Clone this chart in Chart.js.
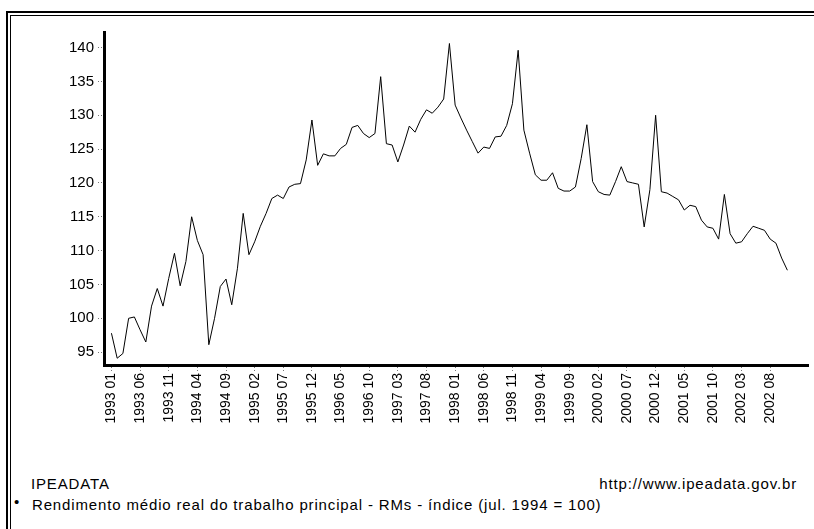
<!DOCTYPE html>
<html>
<head>
<meta charset="utf-8">
<script src="https://cdn.jsdelivr.net/npm/chart.js@4.4.0/dist/chart.umd.min.js"></script>
<style>
    body {
        margin: 0;
        width: 814px;
        height: 529px;
        overflow: hidden;
        position: relative;
        background: #fff;
        font-family: "Liberation Sans", Arial, sans-serif;
        color: #000;
    }
    .frame-outer {
        position: absolute;
        left: 6px; top: 11px; width: 900px; height: 600px;
        border-left: 2px solid #000;
        border-top: 2px solid #000;
    }
    .frame-inner {
        position: absolute;
        left: 10px; top: 15px; width: 900px; height: 600px;
        border-left: 1px solid #000;
        border-top: 1px solid #000;
    }
    .chart-box {
        position: absolute;
        left: 0; top: 0;
        width: 814px; height: 440px;
    }
    .foot {
        position: absolute;
        font-size: 15px;
        line-height: 18px;
        letter-spacing: 0.85px;
        white-space: nowrap;
    }
</style>
</head>
<body>
<div class="frame-outer"></div>
<div class="frame-inner"></div>
<div class="chart-box"><canvas id="chart"></canvas></div>

<div class="foot" style="left:31px; top:475px;">IPEADATA</div>
<div class="foot" style="right:17px; top:475px;">http://www.ipeadata.gov.br</div>
<div class="foot" style="left:14px; top:493px; letter-spacing:0;">&bull;</div>
<div class="foot" style="left:32px; top:496px;">Rendimento médio real do trabalho principal - RMs - índice (jul. 1994 = 100)</div>

<script>
// monthly index, one row per year, 1993 01 .. 2002 11
const values1993 = [97.8, 94.1, 94.8, 100.0, 100.2, 98.3, 96.5, 101.8, 104.4, 101.8, 105.9, 109.6];
const values1994 = [104.8, 108.4, 115.0, 111.5, 109.4, 96.1, 100.0, 104.7, 105.8, 102.0, 107.4, 115.5];
const values1995 = [109.4, 111.3, 113.6, 115.5, 117.7, 118.2, 117.7, 119.4, 119.8, 119.9, 123.4, 129.3];
const values1996 = [122.6, 124.3, 124.0, 124.0, 125.1, 125.7, 128.2, 128.5, 127.3, 126.7, 127.3, 135.7];
const values1997 = [125.8, 125.6, 123.1, 125.6, 128.4, 127.5, 129.4, 130.8, 130.3, 131.2, 132.4, 140.6];
const values1998 = [131.5, 129.6, 127.8, 126.1, 124.4, 125.3, 125.1, 126.8, 126.9, 128.5, 131.7, 139.6];
const values1999 = [127.8, 124.4, 121.2, 120.4, 120.4, 121.5, 119.2, 118.8, 118.8, 119.4, 123.6, 128.6];
const values2000 = [120.2, 118.7, 118.3, 118.2, 120.2, 122.4, 120.2, 120.0, 119.8, 113.5, 119.0, 130.0];
const values2001 = [118.7, 118.5, 118.0, 117.5, 116.0, 116.7, 116.5, 114.5, 113.5, 113.3, 111.7, 118.3];
const values2002 = [112.5, 111.1, 111.3, 112.5, 113.6, 113.3, 113.0, 111.7, 111.1, 108.9, 107.1];

const values = [].concat(values1993, values1994, values1995, values1996, values1997,
                         values1998, values1999, values2000, values2001, values2002);

// x tick labels, one every 5 months starting at 1993 01
const xTickLabels = ['1993 01', '1993 06', '1993 11', '1994 04', '1994 09', '1995 02',
                     '1995 07', '1995 12', '1996 05', '1996 10', '1997 03', '1997 08',
                     '1998 01', '1998 06', '1998 11', '1999 04', '1999 09', '2000 02',
                     '2000 07', '2000 12', '2001 05', '2001 10', '2002 03', '2002 08'];
const xTickStep = 5;

const yTicks = [95, 100, 105, 110, 115, 120, 125, 130, 135, 140];

const points = values.map((v, i) => ({ x: i, y: v }));

new Chart(document.getElementById('chart'), {
    type: 'line',
    data: {
        datasets: [{
            data: points,
            borderColor: '#000',
            borderWidth: 1,
            pointRadius: 0,
            tension: 0,
            fill: false
        }]
    },
    options: {
        responsive: true,
        maintainAspectRatio: false,
        animation: false,
        layout: { padding: { top: 32, right: 6, left: 0, bottom: 0 } },
        plugins: {
            legend: { display: false },
            tooltip: { enabled: false }
        },
        scales: {
            x: {
                type: 'linear',
                min: -1.3,
                max: 121.6,
                afterBuildTicks: (s) => {
                    s.ticks = xTickLabels.map((_, k) => ({ value: k * xTickStep }));
                },
                afterFit: (s) => { s.height = 75; },
                border: { display: true, color: '#000', width: 3 },
                grid: {
                    drawOnChartArea: false,
                    drawTicks: true,
                    tickLength: 6,
                    tickColor: '#777',
                    tickWidth: 1,
                    tickBorderDash: [1, 2]
                },
                ticks: {
                    autoSkip: false,
                    minRotation: 90,
                    maxRotation: 90,
                    padding: 2,
                    color: '#000',
                    font: { family: '"Liberation Sans", Arial, sans-serif', size: 14 },
                    callback: (v) => xTickLabels[Math.round(v / xTickStep)]
                }
            },
            y: {
                min: 93.1,
                max: 142.3,
                afterBuildTicks: (s) => {
                    s.ticks = yTicks.map(v => ({ value: v }));
                },
                afterFit: (s) => { s.width = 104; },
                border: { display: true, color: '#000', width: 3 },
                grid: {
                    drawOnChartArea: false,
                    drawTicks: true,
                    tickLength: 6,
                    tickColor: '#777',
                    tickWidth: 1,
                    tickBorderDash: [1, 2]
                },
                ticks: {
                    padding: 4,
                    color: '#000',
                    font: { family: '"Liberation Sans", Arial, sans-serif', size: 15 }
                }
            }
        }
    }
});
</script>
</body>
</html>
